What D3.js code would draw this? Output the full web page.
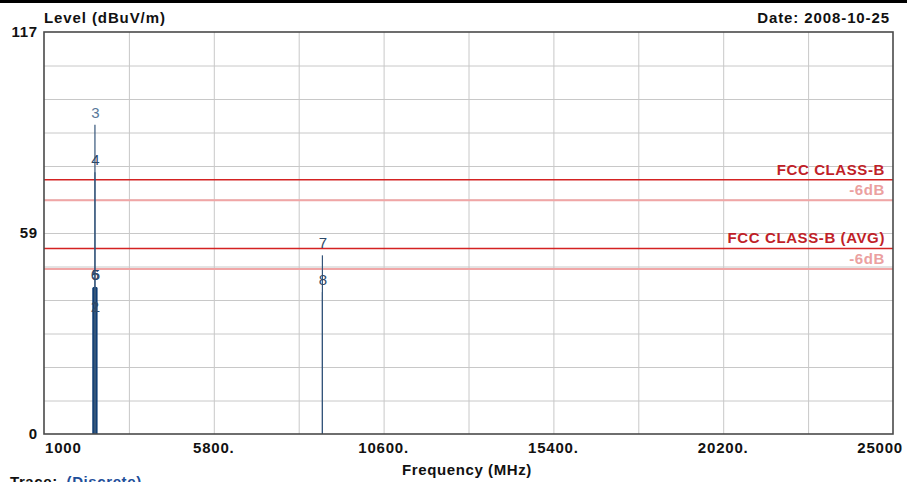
<!DOCTYPE html>
<html>
<head>
<meta charset="utf-8">
<script src="https://cdn.jsdelivr.net/npm/d3@7"></script>
<style>
  body { margin: 0; background: #fff; }
  text { font-family: "Liberation Sans", Arial, sans-serif; }
</style>
</head>
<body>
<div id="plot_area"></div>
<script>
// chart data
var markerIds = ["1", "2", "3", "4", "5", "6", "7", "8"];
var markerFreq = [2455, 2425, 2440, 2440, 2455, 2425, 8870, 8870];
var markerLevel = [33.5, 33.5, 90.0, 76.2, 42.8, 42.8, 52.0, 41.3];

// discrete trace around 2.4 GHz band
var traceFreq = [2390, 2400, 2410, 2420, 2430, 2440, 2450, 2460, 2470, 2480, 2490];
var traceLevel = [42.6, 42.6, 42.7, 42.8, 42.7, 42.8, 42.8, 42.7, 42.8, 42.6, 42.6];

var limitNames = ["FCC CLASS-B", "FCC CLASS-B (AVG)"];
var limitLevel = [74, 54];
var marginDb = -6;

var xTickVals = [1000, 5800, 10600, 15400, 20200, 25000];
var xTickLabels = ["1000", "5800.", "10600.", "15400.", "20200.", "25000"];
var yTickVals = [0, 58.5, 117];
var yTickLabels = ["0", "59", "117"];

var W = 907, H = 482;
var margin = {top: 32, right: 14, bottom: 48, left: 44};
var width = W - margin.left - margin.right,
    height = H - margin.top - margin.bottom;

var svg = d3.select("#plot_area").append("svg")
  .attr("width", W).attr("height", H);

// black strip at the very top
svg.append("rect").attr("x", 0).attr("y", 0).attr("width", W).attr("height", 3).attr("fill", "#000");

var g = svg.append("g").attr("transform", "translate(" + margin.left + "," + margin.top + ")");

var x = d3.scaleLinear().domain([1000, 25000]).range([0, width]);
var y = d3.scaleLinear().domain([0, 117]).range([height, 0]);

// grid
g.append("g")
  .attr("transform", "translate(0," + height + ")")
  .call(d3.axisBottom(x).tickValues(d3.range(1, 10).map(function(i) { return 1000 + i * 2400; }))
    .tickSize(-height).tickFormat(""))
  .call(function(a) { a.select(".domain").remove(); });
g.append("g")
  .call(d3.axisLeft(y).tickValues(d3.range(1, 12).map(function(i) { return i * 9.75; }))
    .tickSize(-width).tickFormat(""))
  .call(function(a) { a.select(".domain").remove(); });
g.selectAll(".tick line").attr("stroke", "#c8c8c8").attr("stroke-width", 1);

// limit lines
limitLevel.forEach(function(v, i) {
  g.append("line")
    .attr("x1", 0).attr("x2", width)
    .attr("y1", y(v)).attr("y2", y(v))
    .attr("stroke", "#d42222").attr("stroke-width", 1.6);
  g.append("line")
    .attr("x1", 0).attr("x2", width)
    .attr("y1", y(v + marginDb)).attr("y2", y(v + marginDb))
    .attr("stroke", "#f0a6a6").attr("stroke-width", 2);
  g.append("text")
    .attr("x", width - 8).attr("y", y(v) - 5)
    .attr("text-anchor", "end")
    .style("font-weight", "bold").style("font-size", "15px")
    .style("letter-spacing", "0.6px")
    .attr("fill", "#c01f28")
    .text(limitNames[i]);
  g.append("text")
    .attr("x", width - 8).attr("y", y(v + marginDb) - 5)
    .attr("text-anchor", "end")
    .style("font-weight", "bold").style("font-size", "15px")
    .style("letter-spacing", "0.6px")
    .attr("fill", "#eba0a0")
    .text(marginDb + "dB");
});

// trace
g.selectAll(".trace")
  .data(traceFreq)
  .enter().append("line")
  .attr("class", "trace")
  .attr("x1", function(d) { return x(d); })
  .attr("x2", function(d) { return x(d); })
  .attr("y1", y(0))
  .attr("y2", function(d, i) { return y(traceLevel[i]); })
  .attr("stroke", "#0c3c74").attr("stroke-width", 1.6);

// markers
g.selectAll(".marker")
  .data(markerIds)
  .enter().append("line")
  .attr("class", "marker")
  .attr("x1", function(d, i) { return x(markerFreq[i]); })
  .attr("x2", function(d, i) { return x(markerFreq[i]); })
  .attr("y1", y(0))
  .attr("y2", function(d, i) { return y(markerLevel[i]); })
  .attr("stroke", "#34557a").attr("stroke-width", 1.2);

g.selectAll(".mlabel")
  .data(markerIds)
  .enter().append("text")
  .attr("class", "mlabel")
  .attr("x", function(d, i) { return x(markerFreq[i]) + 0.5; })
  .attr("y", function(d, i) { return y(markerLevel[i]) - 7; })
  .attr("text-anchor", "middle")
  .style("font-size", "15px")
  .attr("fill", function(d) { return (d === "3") ? "#58779a" : "#2c4868"; })
  .text(function(d) { return d; });

// frame
g.append("rect")
  .attr("x", 0).attr("y", 0).attr("width", width).attr("height", height)
  .attr("fill", "none").attr("stroke", "#4a4a4a").attr("stroke-width", 1.6);

// x tick labels
g.selectAll(".xl")
  .data(xTickVals)
  .enter().append("text")
  .attr("class", "xl")
  .attr("x", function(d, i) {
    if (i === 0) return x(d) + 1;
    if (i === xTickVals.length - 1) return x(d) + 10;
    return x(d);
  })
  .attr("y", height + 19)
  .attr("text-anchor", function(d, i) {
    if (i === 0) return "start";
    if (i === xTickVals.length - 1) return "end";
    return "middle";
  })
  .style("font-weight", "bold").style("font-size", "15px").style("letter-spacing", "0.8px")
  .attr("fill", "#111")
  .text(function(d, i) { return xTickLabels[i]; });

// y tick labels
g.selectAll(".yl")
  .data(yTickVals)
  .enter().append("text")
  .attr("class", "yl")
  .attr("x", -6)
  .attr("y", function(d) { return y(d) + 5; })
  .attr("text-anchor", "end")
  .style("font-weight", "bold").style("font-size", "15px").style("letter-spacing", "0.8px")
  .attr("fill", "#111")
  .text(function(d, i) { return yTickLabels[i]; });

// titles
svg.append("text").attr("x", 44).attr("y", 23)
  .style("font-weight", "bold").style("font-size", "15px").style("letter-spacing", "0.9px")
  .attr("fill", "#111").text("Level (dBuV/m)");
svg.append("text").attr("x", 890).attr("y", 23).attr("text-anchor", "end")
  .style("font-weight", "bold").style("font-size", "15px").style("letter-spacing", "0.9px")
  .attr("fill", "#111").text("Date: 2008-10-25");
svg.append("text").attr("x", 467).attr("y", 475).attr("text-anchor", "middle")
  .style("font-weight", "bold").style("font-size", "15px").style("letter-spacing", "0.6px")
  .attr("fill", "#111").text("Frequency (MHz)");
var tr = svg.append("text").attr("x", 10).attr("y", 487)
  .style("font-weight", "bold").style("font-size", "15px").style("letter-spacing", "0.6px");
tr.append("tspan").attr("fill", "#111").text("Trace: ");
tr.append("tspan").attr("fill", "#1f4f9a").attr("dx", 4).text("(Discrete)");
</script>
</body>
</html>
